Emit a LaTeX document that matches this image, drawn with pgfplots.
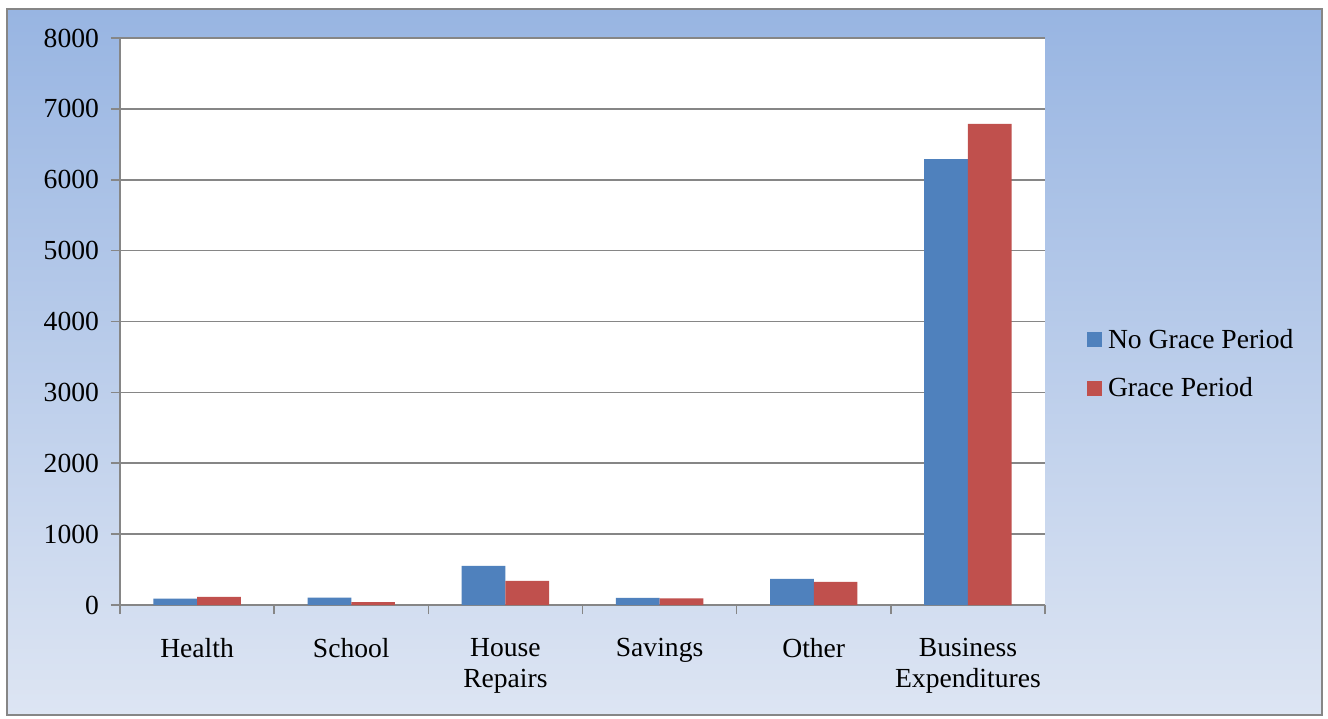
\documentclass[border=0pt]{standalone}
\usepackage{fontspec}
\setmainfont{Liberation Serif}
\usepackage{pgfplots}
\pgfplotsset{compat=1.18}
\definecolor{bgtop}{RGB}{152,181,226}
\definecolor{bgbot}{RGB}{221,229,243}
\definecolor{axgray}{RGB}{134,134,134}
\definecolor{bargblue}{RGB}{79,129,189}
\definecolor{barred}{RGB}{192,80,77}
\newcommand{\lblfont}{\fontsize{13.8}{15.5}\selectfont}
\begin{document}
\begin{tikzpicture}[x=1pt,y=1pt]
\useasboundingbox (0,0) rectangle (664,359);
\shade[top color=bgtop, bottom color=bgbot] (3.5,1.5) rectangle (661,354.5);
\draw[color=axgray, line width=0.8pt] (3.5,1.5) rectangle (661,354.5);
\begin{axis}[
  at={(60pt,56.5pt)}, anchor=south west,
  scale only axis, width=462.5pt, height=283.5pt,
  xmin=-0.5, xmax=5.5, ymin=0, ymax=8000,
  ybar=0pt, bar width=21.85pt,
  axis background/.style={fill=white},
  separate axis lines,
  axis x line=bottom, axis y line=left,
  axis line style={-, draw=axgray, line width=0.8pt},
  ytick={0,1000,...,8000},
  xtick={0,1,2,3,4,5},
  xticklabels={Health,School,House\\Repairs,Savings,Other,Business\\Expenditures},
  minor xtick={-0.5,0.5,1.5,2.5,3.5,4.5,5.5},
  major x tick style={draw=none},
  minor x tick style={draw=axgray, line width=0.8pt},
  major y tick style={draw=axgray, line width=0.8pt},
  tick align=outside,
  major tick length=4.5pt, minor tick length=4.5pt,
  ymajorgrids,
  grid style={draw=axgray, line width=0.8pt},
  /pgf/number format/assume math mode=true,
  /pgf/number format/1000 sep={},
  tick label style={font=\lblfont},
  yticklabel style={xshift=-2.5pt},
  xticklabel style={align=center, yshift=-8.5pt},
  legend style={at={(1.045,0.425)}, anchor=west, draw=none, fill=none,
    font=\lblfont, row sep=9pt, inner sep=0pt,
    nodes={inner xsep=3pt}},
  legend cell align=left,
  legend image code/.code={\fill[#1, draw=none] (0pt,-3.75pt) rectangle (7.5pt,3.75pt);},
  clip=false,
]
\addplot[fill=bargblue, draw=none] coordinates {(0,90) (1,103) (2,552) (3,99) (4,368) (5,6290)};
\addplot[fill=barred, draw=none] coordinates {(0,113) (1,42) (2,340) (3,95) (4,325) (5,6790)};
\legend{No Grace Period, Grace Period}
\end{axis}
\end{tikzpicture}
\end{document}
